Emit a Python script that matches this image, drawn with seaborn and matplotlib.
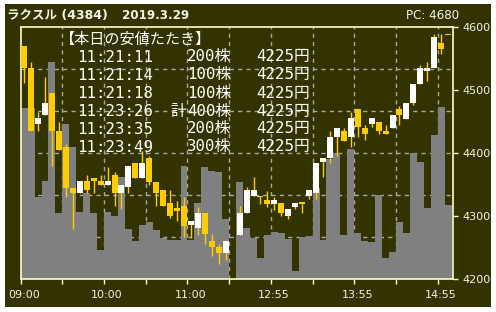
import numpy as np
import pandas as pd
import matplotlib
matplotlib.use("Agg")
import matplotlib.pyplot as plt
import matplotlib.transforms as mtransforms
import seaborn as sns
from matplotlib.patches import Rectangle

# ---------------- data (5-minute candles, slot 30 = lunch gap) ----------------
slot = list(range(62))
opens = [4570, 4536, 4446, 4461, 4496, 4436, 4410, 4345, 4337, 4356,
         4361, 4356, 4350, 4366, 4337, 4346, 4385, 4361, 4392, 4355,
         4341, 4321, 4313, 4316, 4286, 4281, 4306, 4261, 4251, 4242,
         np.nan, 4271, 4306, 4332, 4333, 4326, 4320, 4321, 4301, 4315,
         4322, 4332, 4337, 4386, 4392, 4426, 4436, 4426, 4470, 4440,
         4446, 4450, 4436, 4440, 4470, 4455, 4480, 4510, 4531, 4535,
         4575, 4587]
highs = [4570, 4545, 4465, 4521, 4496, 4450, 4415, 4345, 4356, 4366,
         4361, 4366, 4379, 4370, 4349, 4380, 4385, 4404, 4396, 4355,
         4341, 4341, 4325, 4331, 4292, 4314, 4306, 4272, 4256, 4261,
         np.nan, 4316, 4346, 4362, 4333, 4340, 4330, 4321, 4311, 4321,
         4322, 4341, 4385, 4392, 4436, 4440, 4440, 4466, 4471, 4445,
         4456, 4450, 4445, 4461, 4475, 4480, 4510, 4540, 4545, 4590,
         4590, 4587]
lows = [4511, 4436, 4436, 4461, 4380, 4405, 4331, 4280, 4337, 4337,
        4337, 4350, 4350, 4316, 4312, 4337, 4361, 4361, 4350, 4316,
        4316, 4297, 4292, 4267, 4265, 4270, 4256, 4237, 4225, 4230,
        np.nan, 4271, 4306, 4332, 4320, 4315, 4310, 4300, 4296, 4311,
        4306, 4328, 4327, 4362, 4385, 4396, 4420, 4410, 4426, 4421,
        4441, 4431, 4431, 4440, 4445, 4455, 4476, 4510, 4515, 4535,
        4557, 4587]
closes = [4536, 4436, 4456, 4480, 4436, 4405, 4345, 4337, 4356, 4341,
          4356, 4350, 4356, 4337, 4349, 4380, 4361, 4385, 4355, 4337,
          4316, 4301, 4309, 4285, 4292, 4306, 4272, 4251, 4242, 4261,
          np.nan, 4306, 4341, 4341, 4330, 4320, 4326, 4306, 4311, 4321,
          4320, 4341, 4385, 4392, 4426, 4440, 4420, 4456, 4441, 4431,
          4456, 4436, 4431, 4461, 4461, 4480, 4510, 4535, 4535, 4585,
          4566, 4587]
volumes = [41000, 41000, 19800, 23500, 52100, 15900, 37200, 31700, 16200, 20600,
           15900, 7000, 16200, 15100, 24400, 12100, 9200, 13000, 13700, 11700,
           10000, 9400, 9400, 27200, 9400, 18200, 27000, 26000, 25600, 14400,
           np.nan, 23400, 12200, 10000, 5200, 10600, 11400, 11000, 9600, 2000,
           10200, 10300, 21800, 9400, 28800, 30200, 10600, 31200, 11200, 9200,
           9000, 20100, 5000, 6500, 13700, 11000, 30200, 28100, 17000, 34600,
           41300, 17800]

tick_bounds = [0, 6, 12, 18, 24, 30, 36, 42, 48, 54, 60]
tick_labels = ["09:00", "", "10:00", "", "11:00", "", "12:55", "", "13:55", "", "14:55"]
price_ticks = [4200, 4300, 4400, 4500, 4600]

title_name = "ラクスル (4384)"
title_date = "2019.3.29"
prev_close = "PC: 4680"
box_title = "【本日の安値たたき】"
trade_times = ["11:21:11", "11:21:14", "11:21:18", "11:23:26", "11:23:35", "11:23:49"]
trade_qty = [200, 100, 100, 400, 200, 300]
trade_total = [False, False, False, True, False, False]
trade_price = [4225, 4225, 4225, 4225, 4225, 4225]

# ---------------- style ----------------
sns.set_theme(style="ticks")
plt.rcParams["font.family"] = ["DejaVu Sans", "Noto Sans CJK JP"]

BG = "#333300"
YEL = "#ffcc00"
WHITE = "#ffffff"
GRAYV = "#808080"
SPINE = "#ffffcc"
TXT = "#f4f4e4"
GRID = "#a8a8a8"

W, H = 496, 312
fig = plt.figure(figsize=(W / 100, H / 100), dpi=100, facecolor="white")
fig.add_artist(Rectangle((5 / W, 5 / H), 486 / W, 303 / H, transform=fig.transFigure,
                         facecolor=BG, edgecolor="none", zorder=-10))

L, R, T, B = 20.7, 452.5, 27.3, 279.3
rect = [L / W, 1 - B / H, (R - L) / W, (B - T) / H]
XMIN, XMAX = -0.5, 61.63

# volume axes (background)
axv = fig.add_axes(rect)
axv.set_facecolor(BG)
df = pd.DataFrame({"slot": slot, "vol": volumes}).dropna()
sns.barplot(data=df, x="slot", y="vol", native_scale=True, width=1.0, color=GRAYV,
            saturation=1, errorbar=None, linewidth=0, edgecolor="none", ax=axv, zorder=2)
axv.set_xlim(XMIN, XMAX)
axv.set_ylim(0, 60400)
for b in tick_bounds[1:]:
    axv.axvline(b - 0.5, color=GRID, lw=1, ls=(0, (3, 3)), zorder=1)
for k in range(1, 6):
    axv.plot([0, 1], [k / 6, k / 6], transform=axv.transAxes, color=GRID, lw=1,
             ls=(0, (3, 3)), zorder=1)
axv.set_xticks([]); axv.set_yticks([])
axv.set_xlabel(""); axv.set_ylabel("")
for s in axv.spines.values():
    s.set_visible(False)

# price axes (foreground)
ax = fig.add_axes(rect)
ax.set_facecolor("none")
o = np.array(opens, float); c = np.array(closes, float)
hi = np.array(highs, float); lo = np.array(lows, float)
x = np.array(slot, float)
ok = ~np.isnan(o)
ax.vlines(x[ok], lo[ok], hi[ok], color=YEL, lw=1.0, zorder=2)
bot = np.minimum(o, c)
hgt = np.maximum(np.abs(c - o), 1.8)
cols = [WHITE if cc > oo else YEL for oo, cc in zip(o, c)]
ax.bar(x[ok], hgt[ok], bottom=bot[ok], width=0.86,
       color=[cols[i] for i in np.where(ok)[0]], linewidth=0, zorder=3)

ax.set_xlim(XMIN, XMAX)
ax.set_ylim(4200, 4600)
ax.yaxis.tick_right()
ax.set_yticks(price_ticks)
ax.set_yticklabels([str(p) for p in price_ticks])
ax.set_xticks([b - 0.5 for b in tick_bounds])
ax.set_xticklabels(tick_labels)
ax.tick_params(axis="y", direction="out", length=3.5, width=1, color=SPINE,
               labelcolor=TXT, labelsize=8, pad=3.5)
ax.tick_params(axis="x", direction="out", length=3.5, width=1, color=SPINE,
               labelcolor=TXT, labelsize=8, pad=4)
shift = mtransforms.ScaledTranslation(3 / 100, 0, fig.dpi_scale_trans)
for lab in ax.get_xticklabels():
    lab.set_transform(lab.get_transform() + shift)
for s in ax.spines.values():
    s.set_color(SPINE)
    s.set_linewidth(1.2)

# ---------------- texts ----------------
def fx(px):
    return px / W

def fy(py):
    return 1 - py / H

fig.text(fx(7), fy(15.5), title_name, color=TXT, fontsize=9, fontweight="bold",
         ha="left", va="center")
fig.text(fx(122), fy(15.5), title_date, color=TXT, fontsize=8.6, fontweight="bold",
         ha="left", va="center")
fig.text(fx(406), fy(15.5), prev_close, color=TXT, fontsize=8.6, ha="left", va="center")

fig.text(fx(60), fy(39), box_title, color=WHITE, fontsize=10.9,
         family=["Noto Sans CJK JP"], ha="left", va="center", zorder=10)
row_y = [57, 75, 93, 111, 129, 147]
mono = ["DejaVu Sans Mono", "Noto Sans CJK JP"]
for ty, t, q, tot, pr in zip(row_y, trade_times, trade_qty, trade_total, trade_price):
    fig.text(fx(77), fy(ty), t, color=WHITE, fontsize=11.3, family=mono,
             ha="left", va="center", zorder=10)
    fig.text(fx(187), fy(ty), f"{q}株", color=WHITE, fontsize=11.3, family=mono,
             ha="left", va="center", zorder=10)
    if tot:
        fig.text(fx(186), fy(ty), "計", color=WHITE, fontsize=11.3, family=mono,
                 ha="right", va="center", zorder=10)
    fig.text(fx(256), fy(ty), f"{pr}円", color=WHITE, fontsize=11.3, family=mono,
             ha="left", va="center", zorder=10)

fig.savefig("out.png", dpi=100, facecolor="white")
